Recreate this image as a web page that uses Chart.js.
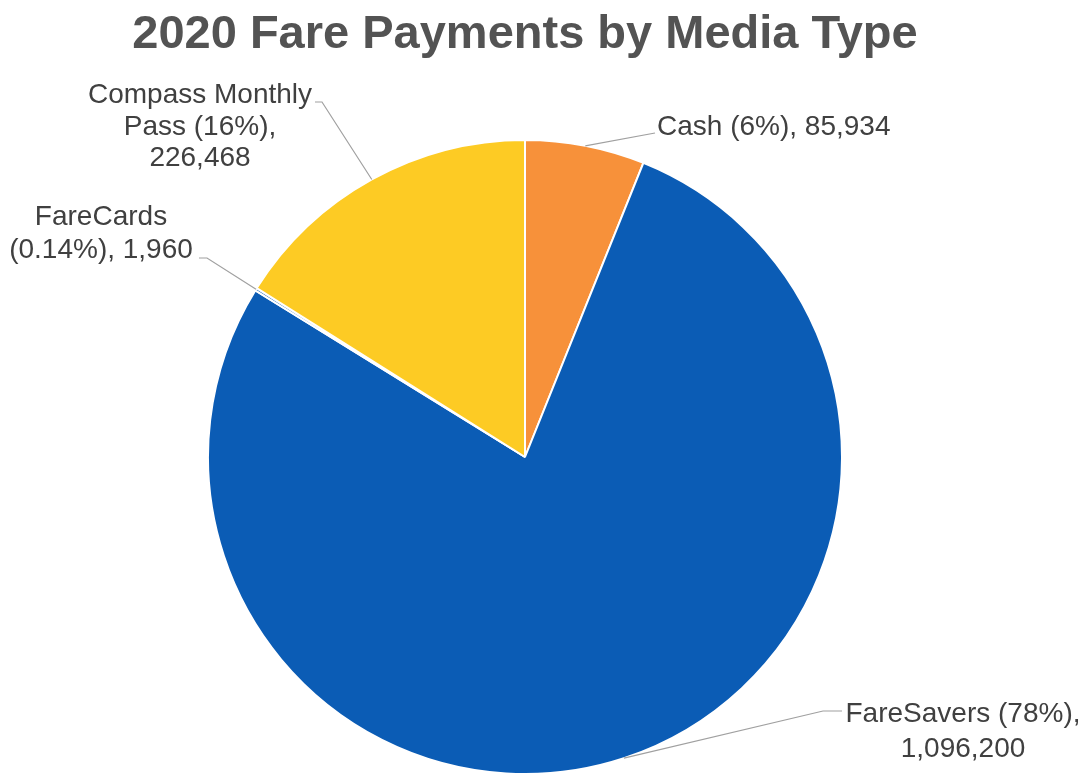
<!DOCTYPE html>
<html>
<head>
<meta charset="utf-8">
<script src="https://cdn.jsdelivr.net/npm/chart.js@4.4.1/dist/chart.umd.min.js"></script>
<style>
  html, body { margin: 0; padding: 0; background: #ffffff; overflow: hidden; }
  canvas { display: block; }
</style>
</head>
<body>
<canvas id="c" width="1084" height="778" style="width:1084px;height:778px"></canvas>
<script>
// ---- data ----
const chartTitle = "2020 Fare Payments by Media Type";
const categories = ["Cash", "FareSavers", "FareCards", "Compass Monthly Pass"];
const values = [85934, 1096200, 1960, 226468];
const sliceColors = ["#F7913A", "#0B5CB5", "#0B5CB5", "#FDCB24"];

// ---- label layout (offsets from pie centre, px) ----
const labelLayout = [
  { elbow: [130, -324], end: [130, -324], textX: 132, baselines: [-322], align: "left", wrap: 1000 },
  { elbow: [298, 254], end: [317, 254], textX: 438, baselines: [265, 300], align: "center", wrap: 250 },
  { elbow: [-318, -199], end: [-326, -199], textX: -424, baselines: [-232, -199], align: "center", wrap: 195 },
  { elbow: [-203, -355], end: [-210, -355], textX: -325, baselines: [-354, -322, -291], align: "center", wrap: 235 }
];

const FONT = '"Liberation Sans", Arial, Helvetica, sans-serif';
const total = values.reduce((a, b) => a + b, 0);
function pctText(v) {
  const p = v / total * 100;
  return p < 1 ? p.toFixed(2) + "%" : Math.round(p) + "%";
}
function wrapText(ctx, text, maxW) {
  const words = text.split(" ");
  const lines = [];
  let cur = "";
  for (const w of words) {
    const t = cur ? cur + " " + w : w;
    if (cur && ctx.measureText(t).width > maxW) { lines.push(cur); cur = w; }
    else cur = t;
  }
  if (cur) lines.push(cur);
  return lines;
}

const labelPlugin = {
  id: "pieLabels",
  afterDraw(chart) {
    const ctx = chart.ctx;
    const meta = chart.getDatasetMeta(0);
    ctx.save();
    // title
    const cx0 = meta.data[0].x;
    ctx.font = "bold 47px " + FONT;
    ctx.fillStyle = "#535353";
    ctx.textAlign = "center";
    ctx.textBaseline = "alphabetic";
    ctx.fillText(chartTitle, cx0, 48);

    ctx.font = "28px " + FONT;
    meta.data.forEach((arc, i) => {
      const p = arc.getProps(["x", "y", "startAngle", "endAngle", "outerRadius"], true);
      const mid = (p.startAngle + p.endAngle) / 2;
      const ax = p.x + Math.cos(mid) * p.outerRadius;
      const ay = p.y + Math.sin(mid) * p.outerRadius;
      const L = labelLayout[i];
      ctx.strokeStyle = "#A0A0A0";
      ctx.lineWidth = 1.2;
      ctx.beginPath();
      ctx.moveTo(ax, ay);
      ctx.lineTo(p.x + L.elbow[0], p.y + L.elbow[1]);
      ctx.lineTo(p.x + L.end[0], p.y + L.end[1]);
      ctx.stroke();

      const text = categories[i] + " (" + pctText(values[i]) + "), " + values[i].toLocaleString("en-US");
      const lines = wrapText(ctx, text, L.wrap);
      ctx.fillStyle = "#404040";
      ctx.textAlign = L.align;
      lines.forEach((ln, k) => {
        const by = L.baselines[Math.min(k, L.baselines.length - 1)];
        ctx.fillText(ln, p.x + L.textX, p.y + by);
      });
    });
    ctx.restore();
  }
};

new Chart(document.getElementById("c"), {
  type: "pie",
  data: {
    labels: categories,
    datasets: [{
      data: values,
      backgroundColor: sliceColors,
      borderColor: "#ffffff",
      borderWidth: 2
    }]
  },
  options: {
    responsive: false,
    animation: false,
    layout: { padding: { top: 139, bottom: 3, left: 150, right: 184 } },
    plugins: {
      legend: { display: false },
      tooltip: { enabled: false },
      title: { display: false }
    }
  },
  plugins: [labelPlugin]
});
</script>
</body>
</html>
